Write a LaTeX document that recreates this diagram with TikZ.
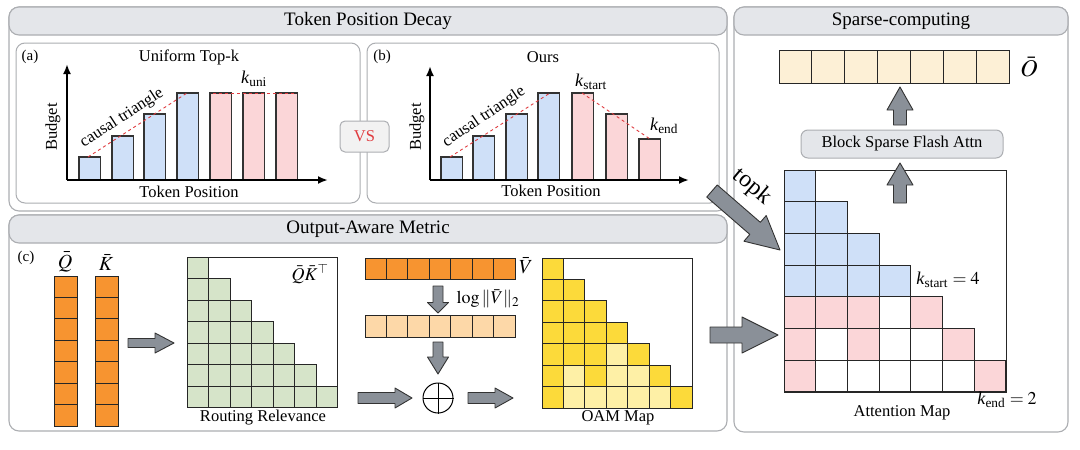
\documentclass[tikz,border=0pt]{standalone}
\usepackage{amsmath}
\usepackage{mathptmx}
\usepackage{fontspec}
\setmainfont{Liberation Serif}
\usepackage{xcolor}
\definecolor{ColLine}{RGB}{172,174,178}
\definecolor{ColHead}{RGB}{228,230,234}
\definecolor{ColBlue}{RGB}{207,224,248}
\definecolor{ColPink}{RGB}{251,214,216}
\definecolor{ColRed}{RGB}{224,60,64}
\definecolor{ColOrange}{RGB}{247,148,48}
\definecolor{ColPeach}{RGB}{253,216,168}
\definecolor{ColGreen}{RGB}{214,228,201}
\definecolor{ColYellow}{RGB}{252,218,58}
\definecolor{ColPale}{RGB}{254,240,166}
\definecolor{ColCream}{RGB}{253,240,214}
\definecolor{ColArrow}{RGB}{138,144,152}
\usepackage{tikz}
\usetikzlibrary{calc}
\usetikzlibrary{arrows.meta}
\tikzstyle{Panel}=[draw=ColLine,line width=1.1pt,fill=white,rounded corners=10pt]
\tikzstyle{SubPanel}=[draw=ColLine,line width=1pt,fill=white,rounded corners=9pt]
\tikzstyle{Header}=[draw=ColLine,line width=1.1pt,fill=ColHead,rounded corners=10pt,
minimum height=28pt,inner sep=0pt,font=\fontsize{19}{22}\selectfont]
\tikzstyle{GrayBox}=[draw=ColLine,line width=1pt,fill=ColHead,rounded corners=7pt,inner sep=0pt]
\tikzstyle{Label}=[inner sep=1pt,font=\fontsize{16.5}{19}\selectfont]
\tikzstyle{Tag}=[inner sep=1pt,font=\fontsize{15}{18}\selectfont]
\tikzstyle{KLabel}=[inner sep=1pt,font=\fontsize{18}{21}\selectfont]
\tikzstyle{MathLabel}=[inner sep=1pt,font=\fontsize{20}{24}\selectfont]
\tikzstyle{Bar}=[draw=black!80,line width=1.2pt]
\tikzstyle{Cell}=[draw=black!85,line width=0.9pt]
\tikzstyle{Frame}=[draw=black!85,line width=1pt]
\tikzstyle{DashLine}=[draw=ColRed,dashed,line width=0.9pt]
\tikzstyle{Axis}=[line width=2.2pt,-{Latex[length=10pt,width=8pt]}]
\tikzset{FatArrow/.style n args={3}{draw=black!80,fill=ColArrow,line width=0.9pt,line join=round,
  to path={let \p1=($(\tikztotarget)-(\tikztostart)$),\n1={atan2(\y1,\x1)} in
    ($(\tikztostart)+(\n1+90:#1)$)--($(\tikztotarget)+(\n1+180:#3)+(\n1+90:#1)$)
    --($(\tikztotarget)+(\n1+180:#3)+(\n1+90:#2)$)--(\tikztotarget)
    --($(\tikztotarget)+(\n1+180:#3)+(\n1-90:#2)$)--($(\tikztotarget)+(\n1+180:#3)+(\n1-90:#1)$)
    --($(\tikztostart)+(\n1-90:#1)$)--cycle}}}

\begin{document}
\begin{tikzpicture}[x=1pt,y=-1pt]
    \useasboundingbox(0,0)rectangle(1080,450);
    \draw[Panel](9,7)rectangle(727,211);
    \node[Header,minimum width=718pt](TPD)at(368,21){Token Position Decay};
    \draw[SubPanel](16,43)rectangle(360,203);
    \draw[SubPanel](367,43)rectangle(719,203);
    \node[Tag](TagA)at(30,57){(a)};
    \node[Label](TitleA)at(189,57){Uniform Top-k};
    \foreach \x/\t/\c in {79/157/ColBlue,112/136/ColBlue,144/114/ColBlue,177/93/ColBlue,
        210/93/ColPink,243/93/ColPink,276/93/ColPink}
        \draw[Bar,fill=\c](\x,180)rectangle(\x+21.5,\t);
    \coordinate(OA)at(67,180);
    \coordinate(YA)at(67,64);
    \coordinate(XA)at(328,180);
    \draw[Axis](OA)--(YA);
    \draw[Axis](OA)--(XA);
    \coordinate(CA1)at(88,157);
    \coordinate(CA2)at(187,93);
    \coordinate(UA1)at(213,93);
    \coordinate(UA2)at(296,93);
    \draw[DashLine](CA1)--(CA2);
    \draw[DashLine](UA1)--(UA2);
    \node[Label,rotate=33](CTA)at(122,118){causal triangle};
    \node[Label,rotate=90](BudA)at(53,127){Budget};
    \node[Label](TokA)at(189,192){Token Position};
    \node[KLabel](KUni)at(254,79){\textit{k}\textsubscript{uni}};
    \node[Tag](TagB)at(382,57){(b)};
    \node[Label](TitleB)at(543,57){Ours};
    \foreach \x/\t/\c in {441/157/ColBlue,473/136/ColBlue,506/114/ColBlue,538/93/ColBlue,
        572/93/ColPink,606/114/ColPink,639/139/ColPink}
        \draw[Bar,fill=\c](\x,180)rectangle(\x+21.5,\t);
    \coordinate(OB)at(430,180);
    \coordinate(YB)at(430,66);
    \coordinate(XB)at(689,180);
    \draw[Axis](OB)--(YB);
    \draw[Axis](OB)--(XB);
    \coordinate(CB1)at(450,157);
    \coordinate(CB2)at(550,93);
    \coordinate(DB1)at(582,93);
    \coordinate(DB2)at(650,139);
    \draw[DashLine](CB1)--(CB2);
    \draw[DashLine](DB1)--(DB2);
    \node[Label,rotate=34](CTB)at(484,117){causal triangle};
    \node[Label,rotate=90](BudB)at(417,127){Budget};
    \node[Label](TokB)at(551,191){Token Position};
    \node[KLabel](KStart)at(591,82){\textit{k}\textsubscript{start}};
    \node[KLabel](KEnd)at(664,126){\textit{k}\textsubscript{end}};
    \node[GrayBox,fill=black!5,minimum width=49pt,minimum height=31pt,rounded corners=5pt,
        font=\fontsize{16.5}{19}\selectfont,text=ColRed](VS)at(364.5,136.5){VS};
    \draw[Panel](9,215)rectangle(727,431);
    \node[Header,minimum width=718pt](OAMHead)at(368,229){Output-Aware Metric};
    \node[Tag](TagC)at(26,258){(c)};
    \node[MathLabel](Qbar)at(65,262){$\bar{Q}$};
    \node[MathLabel](Kbar)at(106,262){$\bar{K}$};
    \foreach \i in {0,...,6}{
        \draw[Cell,fill=ColOrange](54,276+\i*21.43)rectangle+(23,21.43);
        \draw[Cell,fill=ColOrange](95.5,276+\i*21.43)rectangle+(22.5,21.43);
    }
    \foreach \r in {1,...,7}\foreach \c in {1,...,\r}
        \draw[Cell,fill=ColGreen](165.5+\c*21.5,235.5+\r*21.5)rectangle+(21.5,21.5);
    \draw[Frame](187,257)rectangle(337.5,407.5);
    \node[KLabel](QK)at(310,274){$\bar{Q}\bar{K}^{\top}$};
    \node[Label](RR)at(263,418){Routing Relevance};
    \foreach \i in {0,...,6}{
        \draw[Cell,fill=ColOrange](365+\i*21.43,258)rectangle+(21.43,21);
        \draw[Cell,fill=ColPeach](365+\i*21.43,315)rectangle+(21.43,22);
    }
    \node[MathLabel](Vbar)at(526,266){$\bar{V}$};
    \node[KLabel](LogV)at(488,299){$\log\|\bar{V}\|_2$};
    \node[circle,draw,line width=1pt,minimum size=30pt,inner sep=0pt](Plus)at(438,398){};
    \draw[line width=1pt](Plus.north)--(Plus.south);
    \draw[line width=1pt](Plus.west)--(Plus.east);
    \foreach \r in {1,...,7}\foreach \c in {1,...,\r}
        \draw[Cell,fill=ColYellow](520.57+\c*21.43,236.57+\r*21.43)rectangle+(21.43,21.43);
    \foreach \r/\c in {5/4,6/2,6/4,6/5,7/2,7/3,7/4,7/5,7/6}
        \draw[Cell,fill=ColPale](520.57+\c*21.43,236.57+\r*21.43)rectangle+(21.43,21.43);
    \draw[Frame](542,258)rectangle(692,408);
    \node[Label](OAMMap)at(618,418){OAM Map};
    \coordinate(QK1)at(128,343);
    \coordinate(QK2)at(174,343);
    \coordinate(VL1)at(438,286);
    \coordinate(VL2)at(438,313);
    \coordinate(LP1)at(438,342);
    \coordinate(LP2)at(438,374);
    \coordinate(RP1)at(358,398);
    \coordinate(RP2)at(412,398);
    \coordinate(PO1)at(468,398);
    \coordinate(PO2)at(513,398);
    \draw[FatArrow={4.5pt}{10pt}{19pt}](QK1)to(QK2);
    \draw[FatArrow={5pt}{10.5pt}{10.5pt}](VL1)to(VL2);
    \draw[FatArrow={5pt}{10.5pt}{17pt}](LP1)to(LP2);
    \draw[FatArrow={5.5pt}{10pt}{17pt}](RP1)to(RP2);
    \draw[FatArrow={5.5pt}{10pt}{18pt}](PO1)to(PO2);
    \draw[Panel](734,7)rectangle(1068,432);
    \node[Header,minimum width=334pt](SCHead)at(901,21){Sparse-computing};
    \foreach \i in {0,...,6}
        \draw[Cell,fill=ColCream](779+\i*32.86,50)rectangle+(32.86,33);
    \node[inner sep=1pt,font=\fontsize{24}{28}\selectfont](Obar)at(1029,67){$\bar{O}$};
    \node[GrayBox,minimum width=202pt,minimum height=28pt,font=\fontsize{16.5}{19}\selectfont]
        (BSFA)at(902,144){Block Sparse Flash Attn};
    \foreach \r in {1,...,4}\foreach \c in {1,...,\r}
        \draw[Cell,fill=ColBlue](752.3+\c*31.7,138.3+\r*31.7)rectangle+(31.7,31.7);
    \foreach \r in {5,6,7}\foreach \c in {1,...,\r}
        \draw[Cell,fill=white](752.3+\c*31.7,138.3+\r*31.7)rectangle+(31.7,31.7);
    \foreach \r/\c in {5/1,5/2,5/3,5/5,6/1,6/3,6/6,7/1,7/7}
        \draw[Cell,fill=ColPink](752.3+\c*31.7,138.3+\r*31.7)rectangle+(31.7,31.7);
    \draw[Frame](784,170)rectangle(1006,392);
    \node[KLabel](KS4)at(948,280){\textit{k}\textsubscript{start} $=4$};
    \node[KLabel](KE2)at(1007,400){\textit{k}\textsubscript{end} $=2$};
    \node[Label](AttMap)at(902,413){Attention Map};
    \coordinate(AB1)at(900,203);
    \coordinate(AB2)at(900,163);
    \coordinate(BO1)at(900,125);
    \coordinate(BO2)at(900,87);
    \draw[FatArrow={6.5pt}{13pt}{22pt}](AB1)to(AB2);
    \draw[FatArrow={6.5pt}{13pt}{23pt}](BO1)to(BO2);
    \coordinate(TK1)at(712,191);
    \coordinate(TK2)at(780,250);
    \coordinate(OA1)at(710,335);
    \coordinate(OA2)at(778,335);
    \draw[FatArrow={8pt}{17pt}{33pt}](TK1)to(TK2);
    \draw[FatArrow={8pt}{18pt}{36pt}](OA1)to(OA2);
    \node[inner sep=1pt,rotate=-40,font=\fontsize{24}{28}\selectfont](TopK)at(752,187){topk};
\end{tikzpicture}
\end{document}
